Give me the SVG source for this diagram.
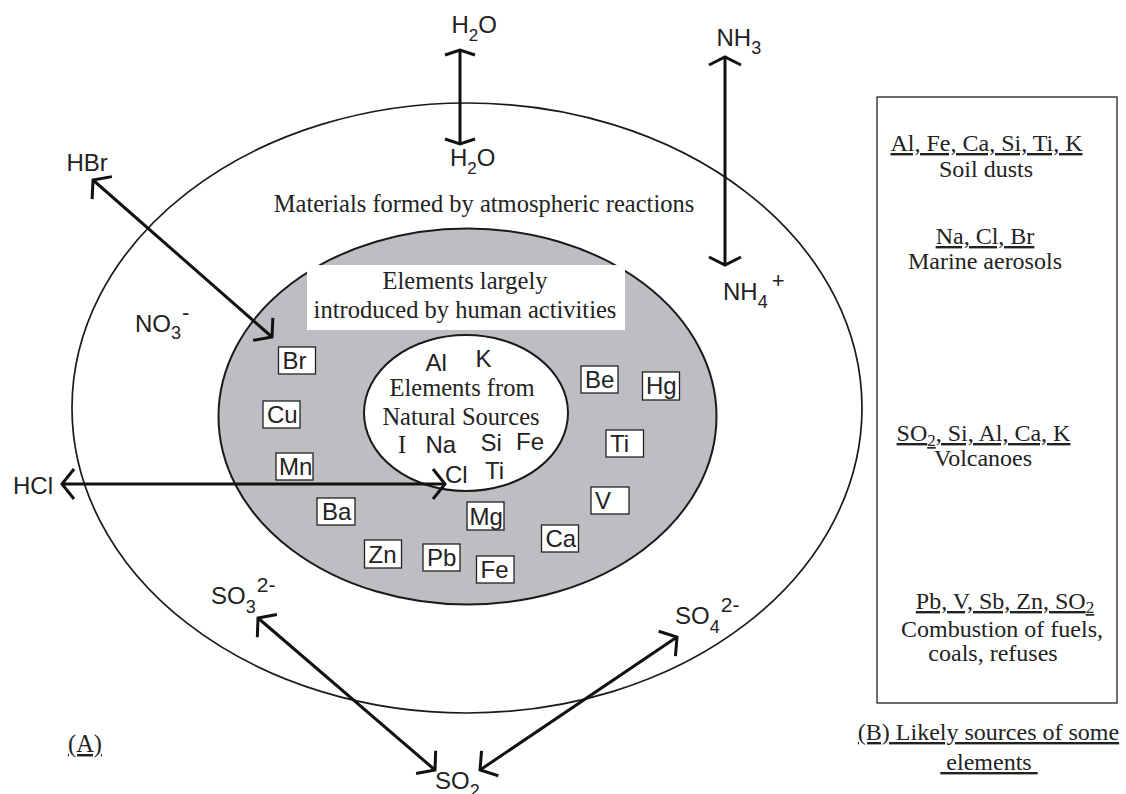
<svg xmlns="http://www.w3.org/2000/svg" width="1126" height="794" viewBox="0 0 1126 794">
<style>
.sans{font-family:"Liberation Sans",Arial,sans-serif;fill:#222;font-size:24px}
.serif{font-family:"Liberation Serif","Times New Roman",serif;fill:#222;font-size:24.5px}
.rs{font-family:"Liberation Serif","Times New Roman",serif;fill:#222;font-size:24px;text-anchor:middle}
.u{text-decoration:underline}
.box{fill:#fff;stroke:#222;stroke-width:1.3}
.arr{stroke:#111;stroke-width:3;fill:none}
.mk{fill:none;stroke:#111;stroke-width:3}
</style>
<defs>
<marker id="ah" viewBox="-20 -20 40 40" refX="0" refY="0" markerWidth="40" markerHeight="40" markerUnits="userSpaceOnUse" orient="auto-start-reverse">
<path class="mk" d="M-12,-15 L0,0 L-12,15"/>
</marker>
<marker id="flat" viewBox="-20 -20 40 40" refX="0" refY="0" markerWidth="40" markerHeight="40" markerUnits="userSpaceOnUse" orient="auto-start-reverse">
<path class="mk" d="M-5,-15 L0,0 L-5,15"/>
</marker>
<marker id="mid" viewBox="-20 -20 40 40" refX="0" refY="0" markerWidth="40" markerHeight="40" markerUnits="userSpaceOnUse" orient="auto-start-reverse">
<path class="mk" d="M-8,-16 L0,0 L-8,16"/>
</marker>
</defs>
<rect width="1126" height="794" fill="#fff"/>

<g id="outer">
<ellipse cx="467" cy="408" rx="395" ry="305" fill="#fff" stroke="#1a1a1a" stroke-width="1.7"/>
<text class="serif" x="484" y="212" text-anchor="middle">Materials formed by atmospheric reactions</text>
</g>

<g id="human">
<ellipse cx="467.5" cy="416.5" rx="249" ry="188" fill="#bdbec2" stroke="#1a1a1a" stroke-width="2"/>
<rect x="307" y="265" width="318" height="65" fill="#fff"/>
<text class="serif" x="465" y="289" text-anchor="middle">Elements largely</text>
<text class="serif" x="465" y="318" text-anchor="middle">introduced by human activities</text>
</g>

<g id="natural">
<ellipse cx="466" cy="413" rx="102" ry="78" fill="#fff" stroke="#1a1a1a" stroke-width="2"/>
<text class="serif" x="462" y="396" text-anchor="middle">Elements from</text>
<text class="serif" x="461" y="425" text-anchor="middle">Natural Sources</text>
<text class="sans" x="425.5" y="371">Al</text>
<text class="sans" x="475.5" y="367">K</text>
<text class="serif" x="398" y="453">I</text>
<text class="sans" x="425.5" y="453">Na</text>
<text class="sans" x="480.5" y="451">Si</text>
<text class="sans" x="516" y="450">Fe</text>
<text class="sans" x="445" y="483">Cl</text>
<text class="sans" x="485" y="479">Ti</text>
</g>

<g id="el-Br"><rect class="box" x="278.5" y="347" width="37" height="27"/><text class="sans" x="282.5" y="369">Br</text></g>
<g id="el-Cu"><rect class="box" x="263" y="401" width="37" height="27"/><text class="sans" x="267" y="423">Cu</text></g>
<g id="el-Mn"><rect class="box" x="276" y="453" width="37" height="27"/><text class="sans" x="279" y="475">Mn</text></g>
<g id="el-Ba"><rect class="box" x="317" y="498" width="38" height="27"/><text class="sans" x="322" y="520">Ba</text></g>
<g id="el-Zn"><rect class="box" x="364.5" y="540" width="37" height="28"/><text class="sans" x="368.5" y="562.5">Zn</text></g>
<g id="el-Pb"><rect class="box" x="423" y="544" width="37" height="27"/><text class="sans" x="427" y="566">Pb</text></g>
<g id="el-Fe"><rect class="box" x="476.5" y="556" width="37.5" height="27"/><text class="sans" x="480.5" y="578">Fe</text></g>
<g id="el-Mg"><rect class="box" x="467" y="502" width="37" height="28"/><text class="sans" x="469.5" y="524.5">Mg</text></g>
<g id="el-Ca"><rect class="box" x="541.5" y="525" width="37" height="27"/><text class="sans" x="545.5" y="547">Ca</text></g>
<g id="el-V"><rect class="box" x="591" y="487" width="38" height="27"/><text class="sans" x="595" y="509">V</text></g>
<g id="el-Ti"><rect class="box" x="606" y="430" width="37.5" height="27"/><text class="sans" x="610" y="452">Ti</text></g>
<g id="el-Be"><rect class="box" x="581" y="366" width="37" height="27"/><text class="sans" x="585" y="388">Be</text></g>
<g id="el-Hg"><rect class="box" x="642.5" y="372" width="37" height="28"/><text class="sans" x="646" y="394">Hg</text></g>

<g id="labels">
<text class="sans" x="451.5" y="33">H<tspan font-size="17" dy="8">2</tspan><tspan dy="-8">O</tspan></text>
<text class="sans" x="450" y="166">H<tspan font-size="17" dy="8">2</tspan><tspan dy="-8">O</tspan></text>
<text class="sans" x="716.5" y="46">NH<tspan font-size="18" dy="8">3</tspan></text>
<text class="sans" x="723" y="300">NH<tspan font-size="18" dy="8">4</tspan><tspan font-size="22" dx="4" dy="-20">+</tspan></text>
<text class="sans" x="66.5" y="171">HBr</text>
<text class="sans" x="135" y="332">NO<tspan font-size="18" dy="7">3</tspan><tspan font-size="22" dx="1" dy="-19">-</tspan></text>
<text class="sans" x="13" y="494">HCl</text>
<text class="sans" x="211" y="604">SO<tspan font-size="18" dy="9">3</tspan><tspan font-size="21" dx="1" dy="-21">2-</tspan></text>
<text class="sans" x="675" y="624">SO<tspan font-size="18" dy="9">4</tspan><tspan font-size="21" dx="1" dy="-21">2-</tspan></text>
<text class="sans" x="435" y="789">SO<tspan font-size="18" dy="8">2</tspan></text>
<text class="serif u" x="68" y="752">(A)</text>
</g>

<g id="connectors">
<line class="arr" x1="460" y1="50" x2="460" y2="144" marker-start="url(#flat)" marker-end="url(#flat)"/>
<line class="arr" x1="725" y1="57" x2="725" y2="265" marker-start="url(#mid)" marker-end="url(#mid)"/>
<line class="arr" x1="93" y1="180" x2="272" y2="337" marker-start="url(#ah)" marker-end="url(#ah)"/>
<line class="arr" x1="62" y1="484" x2="445" y2="484" marker-start="url(#ah)" marker-end="url(#ah)"/>
<line class="arr" x1="258" y1="618" x2="435" y2="770" marker-start="url(#ah)" marker-end="url(#ah)"/>
<line class="arr" x1="677" y1="637" x2="480" y2="770" marker-start="url(#ah)" marker-end="url(#ah)"/>
</g>

<g id="sources">
<rect x="877" y="97" width="240" height="606" fill="none" stroke="#222" stroke-width="1.3"/>
<text class="rs u" x="986.5" y="151">Al, Fe, Ca, Si, Ti, K</text>
<text class="rs" x="986" y="177">Soil dusts</text>
<text class="rs u" x="985" y="244">Na, Cl, Br</text>
<text class="rs" x="985" y="269">Marine aerosols</text>
<text class="rs u" x="983.5" y="441">SO<tspan font-size="17" dy="5">2</tspan><tspan dy="-5">, Si, Al, Ca, K</tspan></text>
<text class="rs" x="983" y="466">Volcanoes</text>
<text class="rs u" x="1005" y="609">Pb, V, Sb, Zn, SO<tspan font-size="17" dy="4">2</tspan></text>
<text class="rs" x="1002" y="637">Combustion of fuels,</text>
<text class="rs" x="993" y="661">coals, refuses</text>
<text class="rs u" x="988.5" y="740">(B) Likely sources of some</text>
<text class="rs u" x="989" y="770">&#160;elements&#160;</text>
</g>
</svg>
